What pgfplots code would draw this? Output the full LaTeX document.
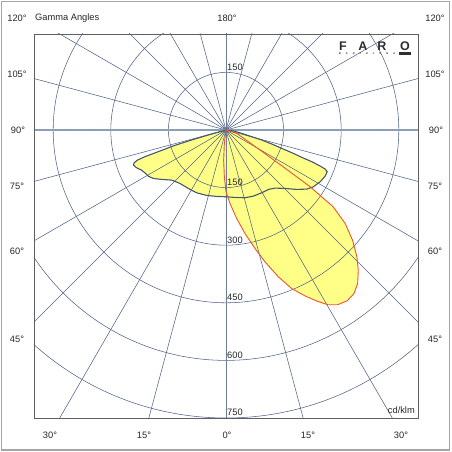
\documentclass[border=0pt]{standalone}
\usepackage{pgfplots}
\pgfplotsset{compat=1.18}
\usepackage{pgfplotstable}
\usepackage{fontspec}
\setmainfont{Liberation Sans}
\definecolor{gridc}{RGB}{82,100,135}
\definecolor{axisc}{RGB}{140,158,182}
\definecolor{yel}{RGB}{255,255,136}
\definecolor{darkc}{RGB}{72,88,105}
\definecolor{redc}{RGB}{235,85,45}
\definecolor{framec}{RGB}{95,95,95}
\definecolor{outerc}{RGB}{165,165,165}
\definecolor{logoc}{RGB}{45,45,45}

\pgfplotstableread{
x y
0 0
-46.1 -13.0
-89.6 -26.1
-133.0 -40.0
-176.5 -56.5
-211.3 -69.6
-230.4 -78.3
-239.1 -85.2
-240.9 -91.3
-233.1 -98.3
-220.0 -104.4
-209.6 -113.0
-202.6 -120.0
-189.6 -126.1
-167.8 -128.7
-141.7 -130.4
-120.0 -139.1
-98.3 -152.2
-76.5 -163.5
-50.4 -170.4
-24.3 -173.0
0 -173.9
23.5 -175.7
49.6 -176.5
71.3 -172.2
93.0 -163.5
110.4 -154.8
127.8 -151.3
153.9 -152.2
184.4 -154.8
210.4 -153.9
227.8 -147.8
245.2 -134.8
258.3 -120.0
263.5 -108.7
258.3 -101.7
245.2 -93.9
223.5 -82.6
197.4 -71.3
171.3 -59.1
145.2 -47.8
119.1 -36.5
93.0 -26.1
67.0 -17.4
40.9 -8.7
19.1 -2.6
0 0
}\darkcurve

\pgfplotstableread{
x y
0 0
27.8 -8.7
88.7 -52.2
148.7 -95.7
219.1 -147.8
279.1 -200.0
310.4 -243.5
329.6 -287.0
340.9 -330.4
344.5 -365.2
342.8 -400.0
333.2 -426.1
315.8 -444.5
291.0 -455.0
265.0 -455.0
236.5 -445.5
206.1 -432.2
171.3 -413.1
136.5 -382.6
101.7 -343.5
75.7 -308.7
49.6 -269.6
27.8 -230.4
10.4 -191.3
0 -160.9
-4.3 -121.7
-6.1 -78.3
-4.3 -34.8
-1.7 -13.0
0 0
}\redcurve

\begin{document}
\begin{tikzpicture}
\useasboundingbox (-34pt,-34pt) rectangle (418pt,418pt);
\draw[outerc, line width=1.5pt] (-32.5pt,-32pt) rectangle (415.5pt,416.5pt);
\begin{axis}[at={(0pt,0pt)}, anchor=south west,
  width=384pt, height=384pt, scale only axis,
  xmin=-500, xmax=500, ymin=-750, ymax=250,
  ticks=none, axis on top,
  axis line style={framec, line width=0.8pt},
  clip=true]
\addplot[fill=yel, draw=none, no markers] table {\darkcurve};
\addplot[fill=yel, draw=none, no markers] table {\redcurve};
\draw[gridc, line width=0.55pt] (axis cs:0,0) circle[radius=150];
\draw[gridc, line width=0.55pt] (axis cs:0,0) circle[radius=300];
\draw[gridc, line width=0.55pt] (axis cs:0,0) circle[radius=450];
\draw[gridc, line width=0.55pt] (axis cs:0,0) circle[radius=600];
\draw[gridc, line width=0.55pt] (axis cs:0,0) circle[radius=750];
\pgfplotsinvokeforeach{15,30,...,345}{
  \draw[gridc, line width=0.55pt] (axis cs:0,0) -- (axis cs:{1100*cos(#1)},{1100*sin(#1)});
}
\draw[axisc, line width=1.1pt] (axis cs:-500,0) -- (axis cs:500,0);
\draw[gridc!85!white, line width=0.6pt] (axis cs:0,-750) -- (axis cs:0,250);
\addplot[darkc, line width=1.1pt, no markers] table {\darkcurve};
\addplot[redc, line width=0.9pt, no markers] table {\redcurve};
\end{axis}
\begin{scope}[every node/.style={font=\fontsize{9.3}{10}\selectfont, text=black!85, inner sep=0pt}]
% top row
\node at (-17pt,400pt) {120°};
\node[anchor=west] at (1pt,400pt) {Gamma Angles};
\node at (193pt,400pt) {180°};
\node at (401pt,400pt) {120°};
% left
\node at (-17pt,344pt) {105°};
\node at (-16pt,288pt) {90°};
\node at (-17pt,232pt) {75°};
\node at (-17pt,167pt) {60°};
\node at (-17pt,78.5pt) {45°};
% right
\node at (401pt,344pt) {105°};
\node at (402pt,288pt) {90°};
\node at (401pt,232pt) {75°};
\node at (401pt,167pt) {60°};
\node at (401pt,78.5pt) {45°};
% bottom
\node at (16pt,-17pt) {30°};
\node at (110pt,-17pt) {15°};
\node at (193pt,-17pt) {0°};
\node at (274pt,-17pt) {15°};
\node at (367pt,-17pt) {30°};
% radial values
\node[anchor=base west] at (193pt,347pt) {150};
\node[anchor=base west] at (193pt,232pt) {150};
\node[anchor=base west] at (193pt,174.5pt) {300};
\node[anchor=base west] at (193pt,117pt) {450};
\node[anchor=base west] at (193pt,59.5pt) {600};
\node[anchor=base west] at (193pt,2pt) {750};
\node[anchor=base east] at (381pt,4pt) {cd/klm};
\end{scope}
% logo
\begin{scope}[every node/.style={font=\fontsize{12.5}{13}\selectfont\bfseries, text=logoc, inner sep=0pt}]
\node at (309pt,371.5pt) {F};
\node at (329pt,371.5pt) {A};
\node at (348pt,371.5pt) {R};
\node at (371pt,371.5pt) {O};
\end{scope}
\node[anchor=west, inner sep=0pt, text=logoc, font=\fontsize{2.6}{3}\selectfont\bfseries] at (305pt,364.3pt)
  {B\hspace{4.9pt}A\hspace{4.9pt}R\hspace{4.9pt}C\hspace{4.9pt}E\hspace{4.9pt}L\hspace{4.9pt}O\hspace{4.9pt}N\hspace{4.9pt}A};
\fill[logoc] (365pt,363.2pt) rectangle (377pt,366pt);
\end{tikzpicture}
\end{document}
